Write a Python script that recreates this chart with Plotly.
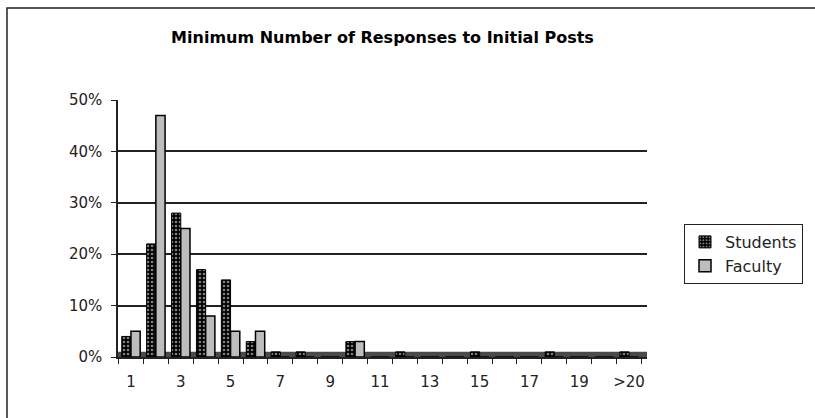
import plotly.graph_objects as go

# Response-count buckets and share of initial posts per group
categories = [str(i) for i in range(1, 21)] + [">20"]
students = [0.04, 0.22, 0.28, 0.17, 0.15, 0.03, 0.01, 0.01, 0.0, 0.03,
            0.0, 0.01, 0.0, 0.0, 0.01, 0.0, 0.0, 0.01, 0.0, 0.0, 0.01]
faculty = [0.05, 0.47, 0.25, 0.08, 0.05, 0.05, 0.0, 0.0, 0.0, 0.03,
           0.0, 0.0, 0.0, 0.0, 0.0, 0.0, 0.0, 0.0, 0.0, 0.0, 0.0]
y_ticks = [0, 0.1, 0.2, 0.3, 0.4, 0.5]

W, H = 815, 418
L, R, T, B = 118, 647, 100, 357  # plot area edges in pixels

positions = list(range(len(categories)))
label_pos = positions[::2]
label_text = categories[::2]

FONT = "DejaVu Sans, Arial, sans-serif"


def px_x(p):
    return (p - L) / (R - L)


def px_y(p):
    return (B - p) / (B - T)


fig = go.Figure()
fig.add_trace(go.Bar(
    name="Students", x=positions, y=students,
    marker=dict(color="black", line=dict(color="black", width=1),
                pattern=dict(shape=".", fgcolor="white", bgcolor="black",
                             size=4, solidity=0.35)),
))
fig.add_trace(go.Bar(
    name="Faculty", x=positions, y=faculty,
    marker=dict(color="#bdbdbd", line=dict(color="black", width=1.5)),
))

shapes = [
    # floor strip under the bars
    dict(type="rect", xref="x domain", yref="y", x0=0, x1=1, y0=0, y1=0.01,
         fillcolor="#4a4a4a", line=dict(width=0), layer="below"),
    # chart-area frame: left and top edges, running off the page
    dict(type="path", xref="paper", yref="paper",
         path="M {:.5f},{:.5f} L {:.5f},{:.5f} L {:.5f},{:.5f}".format(
             px_x(7), px_y(H + 30), px_x(7), px_y(8), px_x(W + 30), px_y(8)),
         line=dict(color="#222", width=1.5), layer="below"),
]

fig.update_layout(
    width=W, height=H,
    margin=dict(l=L, r=W - R, t=T, b=H - B, pad=0),
    paper_bgcolor="white", plot_bgcolor="white",
    barmode="group", bargap=0.26, bargroupgap=0.0,
    title=dict(text="<b>Minimum Number of Responses to Initial Posts</b>",
               x=0.5, xref="paper", xanchor="center",
               y=1 - 37 / H, yref="container", yanchor="middle",
               font=dict(family="DejaVu Sans, Arial, sans-serif",
                         size=16, color="black")),
    font=dict(family=FONT, size=15, color="#222"),
    showlegend=True,
    legend=dict(x=px_x(684), y=px_y(224), xanchor="left", yanchor="top",
                bgcolor="white", bordercolor="#222", borderwidth=1,
                font=dict(family=FONT, size=16, color="#222"),
                itemwidth=30, tracegroupgap=0),
    shapes=shapes,
)

fig.update_xaxes(
    range=[-0.52, 20.72],
    tickmode="array", tickvals=label_pos, ticktext=label_text,
    ticks="", showgrid=False, zeroline=False,
    showline=True, linecolor="#222", linewidth=1.5,
    ticklabelstandoff=10,
    tickfont=dict(family=FONT, size=15, color="#222"),
    minor=dict(ticks="outside", tick0=-0.5, dtick=1, ticklen=5,
               tickcolor="#222", showgrid=False),
)
fig.update_yaxes(
    range=[0, 0.5],
    tickmode="array", tickvals=y_ticks, tickformat=".0%",
    ticks="outside", ticklen=5, tickcolor="#222",
    showgrid=True, gridcolor="#222", gridwidth=1.5,
    zeroline=False, showline=True, linecolor="#222", linewidth=1.5,
    ticklabelstandoff=6,
    tickfont=dict(family=FONT, size=15, color="#222"),
)

fig.write_html("out.html")
